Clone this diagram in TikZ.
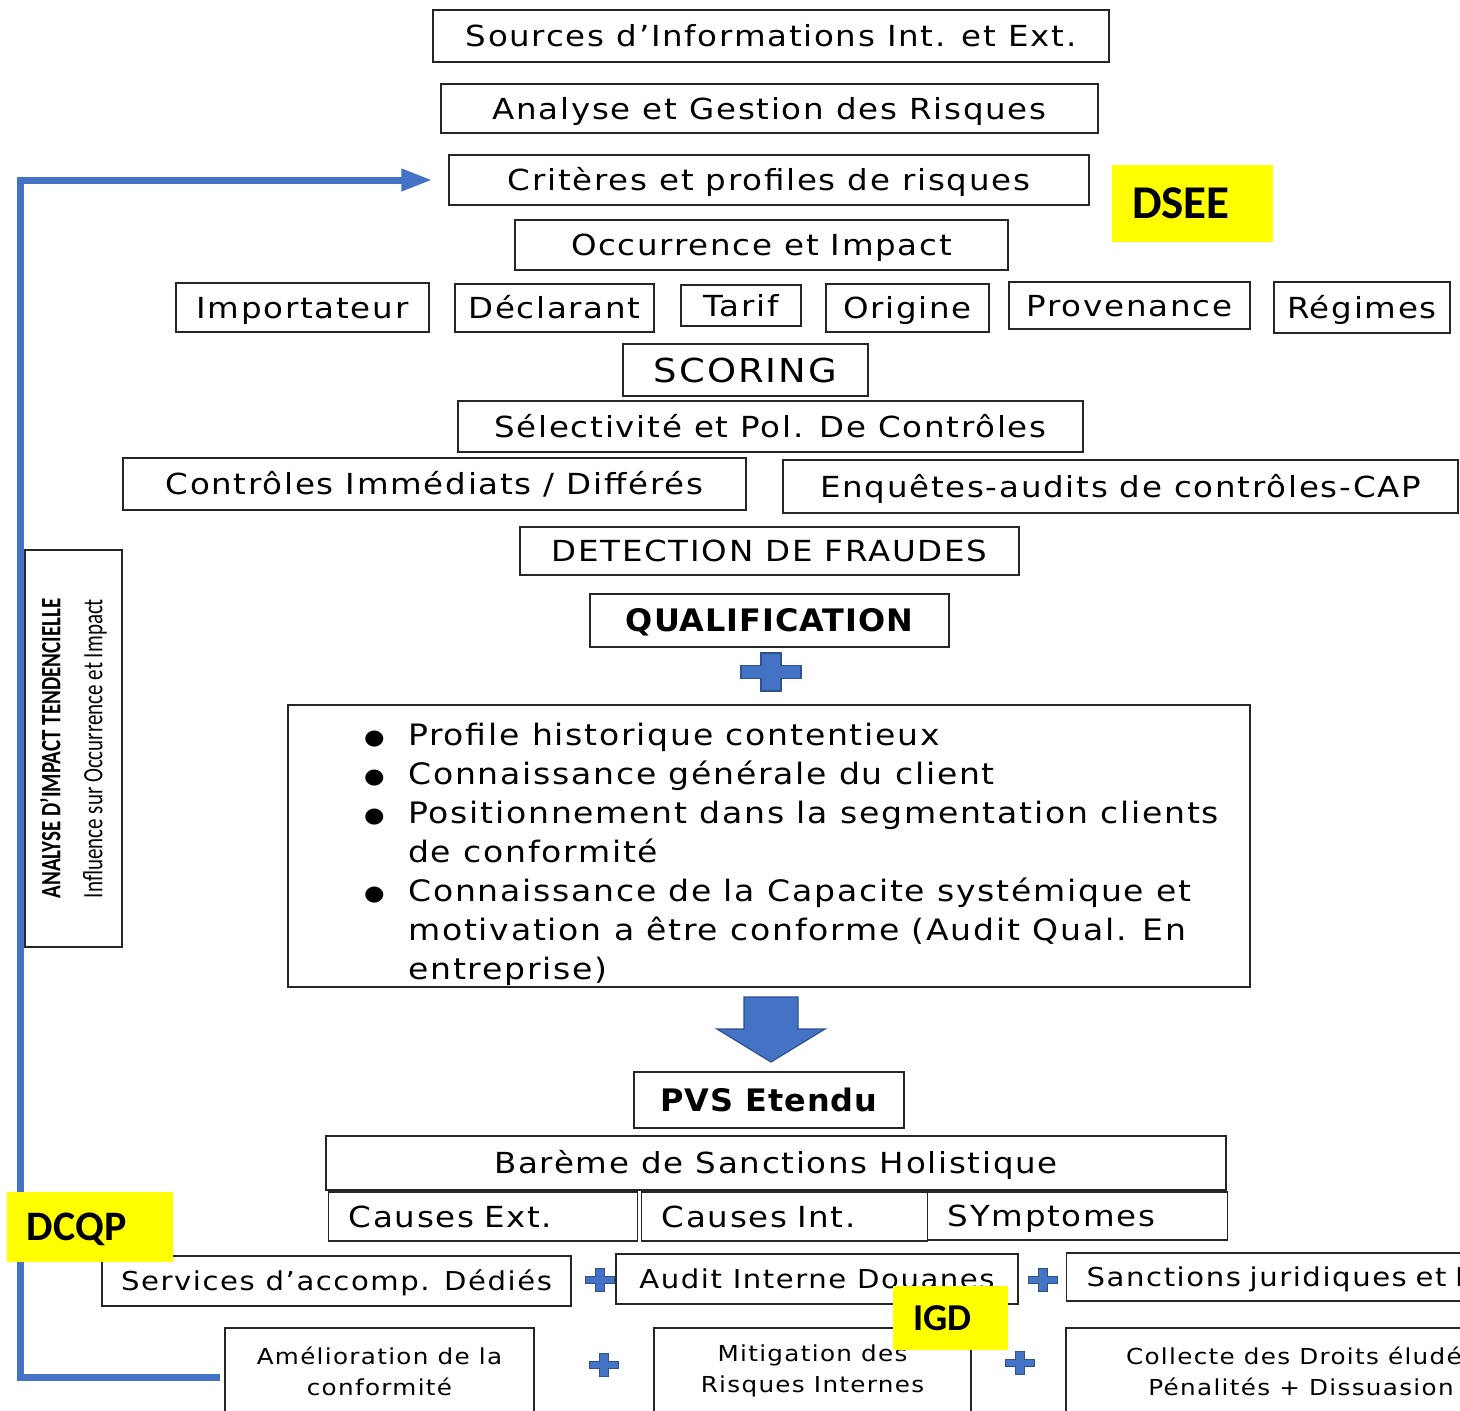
\documentclass[tikz,border=0pt]{standalone}
\usepackage{fontspec}
\setmainfont{DejaVu Sans}[FakeStretch=1.12, LetterSpace=6]
\newfontfamily\heavyfont{DejaVu Sans}[FakeStretch=1.03, LetterSpace=3]
\newfontfamily\tagfont{Carlito}
\newfontfamily\narrowfont{Carlito}[FakeStretch=0.75]
\usetikzlibrary{arrows.meta}
\definecolor{crossblue}{HTML}{4472C4}
\definecolor{crossedge}{HTML}{2F528F}
\definecolor{tagyellow}{HTML}{FFFF00}
\tikzset{
	infobox/.style={draw=black!85, line width=1.4pt, inner sep=0pt,
		font=\fontsize{29}{34}\selectfont, text height=21.2pt, text depth=0pt},
	smallfont/.style={font=\fontsize{26}{32}\selectfont, text height=19pt},
	leftbox/.style={infobox, align=left, inner xsep=20pt},
	boldbox/.style={infobox, font=\heavyfont\bfseries\fontsize{31}{36}\selectfont, text height=22.6pt},
	twoline/.style={draw=black!85, line width=1.4pt, inner sep=0pt, align=center,
		font=\fontsize{22}{31}\selectfont},
	tag/.style={fill=tagyellow, inner sep=0pt, inner xsep=20pt, align=left, text depth=0pt},
	feedback/.style={draw=crossblue, line width=7pt, -{Triangle[length=31pt,width=21pt]}},
	bluecross/.pic={
		\filldraw[fill=crossblue, draw=crossedge] (-1.5,-.5) -- (-.5,-.5) -- (-.5,-1.5) -- (.5,-1.5)
			-- (.5,-.5) -- (1.5,-.5) -- (1.5,.5) -- (.5,.5) -- (.5,1.5) -- (-.5,1.5) -- (-.5,.5)
			-- (-1.5,.5) -- cycle;
	},
}
\newcommand{\puce}{\makebox[44pt][l]{\raisebox{1pt}{\fontsize{21}{21}\selectfont ●}}}
\begin{document}
\begin{tikzpicture}[x=1pt, y=-1pt]
	\useasboundingbox (0,0) rectangle (1460,1411);
	% DSEE chain
	\node[infobox, minimum width=676, minimum height=52] (sources) at (771,36) {Sources d’Informations Int. et Ext.};
	\node[infobox, minimum width=657, minimum height=49] (analyse) at (769.5,108.5) {Analyse et Gestion des Risques};
	\node[infobox, minimum width=640, minimum height=50] (crit) at (769,180) {Critères et profiles de risques};
	\node[infobox, minimum width=493, minimum height=50] (occur) at (761.5,245) {Occurrence et Impact};
	\node[infobox, minimum width=253, minimum height=49] (import) at (302.5,307.5) {Importateur};
	\node[infobox, minimum width=199, minimum height=48] (declar) at (554.5,308) {Déclarant};
	\node[infobox, minimum width=120, minimum height=41] (tarif) at (741,305.5) {Tarif};
	\node[infobox, minimum width=163, minimum height=48] (origine) at (907.5,308) {Origine};
	\node[infobox, minimum width=241, minimum height=47] (proven) at (1129.5,305.5) {Provenance};
	\node[infobox, minimum width=176, minimum height=51] (regimes) at (1362,307.5) {Régimes};
	\node[infobox, minimum width=245, minimum height=52, font=\fontsize{33}{38}\selectfont, text height=24pt] (scoring) at (745.5,370) {SCORING};
	\node[infobox, minimum width=625, minimum height=51] (select) at (770.5,426.5) {Sélectivité et Pol. De Contrôles};
	\node[infobox, minimum width=623, minimum height=52] (immed) at (434.5,484) {Contrôles Immédiats / Différés};
	\node[infobox, minimum width=675, minimum height=53] (enquetes) at (1120.5,486.5) {Enquêtes-audits de contrôles-CAP};
	\node[infobox, minimum width=499, minimum height=48] (detect) at (769.5,551) {DETECTION DE FRAUDES};
	\node[boldbox, minimum width=359, minimum height=53] (qualif) at (769.5,620.5) {QUALIFICATION};
	\pic[xscale=20, yscale=12.7, line width=1.5pt] at (771,672) {bluecross};
	\node[draw=black!85, line width=1.4pt, minimum width=962, minimum height=282] (qualbox) at (769,846) {};
	\node[anchor=north west, inner sep=0pt, align=left, font=\fontsize{29.5}{39}\selectfont] (qualtext) at (364,723)
		{\puce Profile historique contentieux\\
		 \puce Connaissance générale du client\\
		 \puce Positionnement dans la segmentation clients\\
		 \hspace*{44pt}de conformité\\
		 \puce Connaissance de la Capacite systémique et\\
		 \hspace*{44pt}motivation a être conforme (Audit Qual. En\\
		 \hspace*{44pt}entreprise)};
	\coordinate (downtop) at (771,997);
	\filldraw[fill=crossblue, draw=crossedge, line width=1.2pt] (downtop) ++(-27,0) -- ++(54,0) -- ++(0,32)
		-- ++(27,0) -- ++(-54,33) -- ++(-54,-33) -- ++(27,0) -- cycle;
	% sanctions
	\node[boldbox, minimum width=270, minimum height=56] (pvs) at (769,1100) {PVS Etendu};
	\node[infobox, minimum width=900, minimum height=54] (bareme) at (776,1163) {Barème de Sanctions Holistique};
	\node[leftbox, anchor=west, minimum height=49, text width=269] (causesext) at (328,1216.5) {Causes Ext.};
	\node[leftbox, anchor=west, minimum height=49, text width=246] (causesint) at (641,1216.5) {Causes Int.};
	\node[leftbox, anchor=west, minimum height=48, text width=260] (sympt) at (927,1216) {SYmptomes};
	\node[infobox, smallfont, minimum width=469, minimum height=50] (services) at (336.5,1281) {Services d’accomp. Dédiés};
	\node[infobox, smallfont, minimum width=402, minimum height=50] (audit) at (817,1279) {Audit Interne Douanes};
	\node[leftbox, smallfont, anchor=west, minimum height=48, text width=640] (sanctions) at (1066,1277) {Sanctions juridiques et Pénales};
	\node[twoline, minimum width=309, minimum height=86] (amel) at (379.5,1371) {Amélioration de la\\conformité};
	\node[twoline, minimum width=317, minimum height=86] (mitig) at (812.5,1371) {Mitigation des\\Risques Internes};
	\node[twoline, minimum width=470, minimum height=86] (collecte) at (1301,1371) {Collecte des Droits éludés\\Pénalités + Dissuasion};
	\foreach \cx/\cy in {600/1280, 1043/1280, 604/1365, 1020/1363}
		\pic[xscale=9.7, yscale=7.8, line width=1pt] at (\cx,\cy) {bluecross};
	% feedback loop
	\coordinate (loopbot) at (20.5,1377);
	\draw[feedback, shorten <=4pt, shorten >=16pt] (amel.west |- loopbot) -- (loopbot) |- (crit.west);
	\node[draw=black!85, line width=1.4pt, fill=white, rotate=90, minimum width=397, minimum height=97,
		inner sep=0pt, align=center, font=\narrowfont\fontsize{28}{42}\selectfont] (tendance) at (73.5,748.5)
		{{\bfseries ANALYSE D’IMPACT TENDENCIELLE}\\Influence sur Occurrence et Impact};
	% tags
	\node[tag, minimum height=77, text width=121, text height=30.5pt, font=\tagfont\bfseries\fontsize{47}{47}\selectfont] (dsee) at (1192.5,203.5) {DSEE};
	\node[tag, minimum height=70, text width=126, text height=27pt, font=\tagfont\bfseries\fontsize{42}{42}\selectfont] (dcqp) at (90,1227) {DCQP};
	\node[tag, minimum height=64, text width=75, text height=24.5pt, font=\tagfont\bfseries\fontsize{38}{38}\selectfont] (igd) at (950.5,1318) {IGD};
\end{tikzpicture}
\end{document}
